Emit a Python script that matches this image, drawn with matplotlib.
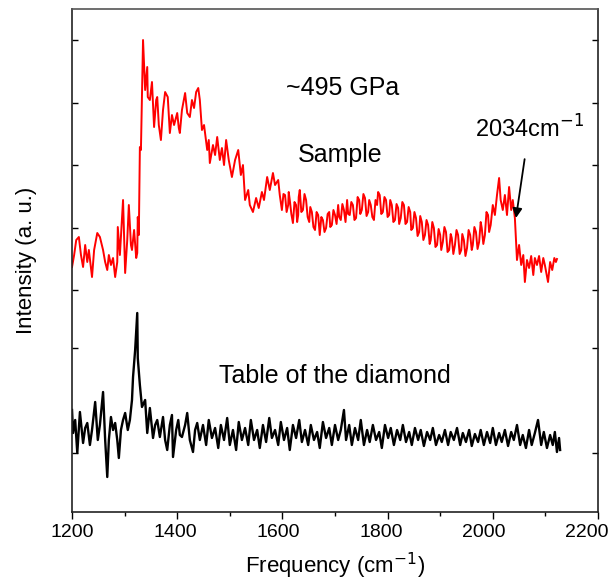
import matplotlib
matplotlib.use("Agg")
import matplotlib.pyplot as plt
from matplotlib.ticker import MultipleLocator
from matplotlib.transforms import ScaledTranslation

plt.rcParams["font.family"] = ["Liberation Sans", "DejaVu Sans"]

# sample spectrum (~495 GPa), arbitrary intensity units
sample_freq = [
    1200, 1204, 1208, 1213, 1217, 1221, 1225, 1229, 1232, 1238, 1242, 1248, 1253, 1259,
    1263, 1267, 1270, 1274, 1278, 1282, 1286, 1287, 1291, 1297, 1301, 1305, 1308, 1312,
    1314, 1318, 1322, 1324, 1325, 1327, 1329, 1331, 1335, 1339, 1343, 1344, 1348, 1352,
    1356, 1360, 1362, 1365, 1369, 1373, 1377, 1382, 1386, 1390, 1394, 1400, 1403, 1405,
    1409, 1415, 1419, 1424, 1428, 1432, 1436, 1440, 1443, 1447, 1451, 1457, 1460, 1462,
    1468, 1472, 1476, 1481, 1485, 1489, 1493, 1498, 1504, 1510, 1516, 1521, 1525, 1529,
    1535, 1538, 1544, 1550, 1555, 1561, 1565, 1571, 1576, 1582, 1586, 1592, 1595,
    1599, 1602, 1605, 1608, 1611, 1612, 1614, 1617, 1620, 1623, 1626, 1628, 1630, 1631,
    1633, 1636, 1639, 1642, 1645, 1648, 1651, 1653, 1656, 1659, 1662, 1665, 1668, 1670,
    1671, 1674, 1677, 1680, 1683, 1686, 1689, 1691, 1694, 1697, 1700, 1703, 1706, 1708,
    1711, 1714, 1717, 1720, 1723, 1725, 1728, 1731, 1734, 1737, 1740, 1743, 1746, 1748,
    1751, 1754, 1757, 1760, 1763, 1765, 1768, 1771, 1774, 1777, 1780, 1782, 1785, 1788,
    1791, 1794, 1797, 1800, 1803, 1805, 1808, 1811, 1814, 1817, 1820, 1822, 1825, 1828,
    1831, 1834, 1837, 1840, 1843, 1845, 1848, 1851, 1854, 1857, 1860, 1862, 1865, 1868,
    1871, 1874, 1877, 1880, 1882, 1885, 1888, 1891, 1894, 1897, 1900, 1902, 1905, 1908,
    1911, 1914, 1917, 1920, 1922, 1925, 1928, 1931, 1934, 1937, 1940, 1942, 1945, 1948,
    1951, 1954, 1957, 1960, 1962, 1965, 1968, 1971, 1974, 1977, 1979, 1982, 1985, 1988,
    1991, 1993, 1996,
    2000, 2004, 2008, 2012, 2015, 2019, 2023, 2027, 2031, 2035, 2038, 2042, 2046,
    2050, 2054, 2058, 2061, 2065, 2069, 2073, 2077, 2080, 2084, 2088, 2092, 2096, 2099,
    2105, 2109, 2113, 2117, 2120, 2122,
]
sample_int = [
    245, 257, 272, 275, 257, 245, 267, 250, 262, 235, 262, 279, 275, 262,
    250, 242, 257, 247, 254, 235, 250, 285, 257, 312, 239, 272, 307, 267,
    262, 282, 254, 259, 295, 277, 365, 362, 472, 422, 445, 415, 412, 430,
    385, 412, 415, 387, 372, 402, 420, 415, 379, 397, 387, 399, 384, 379,
    402, 419, 399, 395, 412, 404, 420, 424, 412, 382, 387, 362, 372, 349,
    367, 357, 375, 352, 364, 347, 372, 352, 335, 352, 362, 337, 347, 312,
    322, 307, 300, 314, 304, 320, 312, 335, 322, 339, 327, 332, 317,
    302, 318, 317, 300, 307, 320, 312, 298, 289, 310, 307, 290, 297, 315,
    322, 300, 302, 318, 312, 295, 290, 305, 300, 285, 282, 300, 297, 283,
    277, 295, 292, 280, 284, 298, 300, 285, 287, 302, 297, 288, 307, 295,
    292, 308, 302, 290, 312, 298, 297, 310, 307, 292, 294, 315, 312, 298,
    302, 318, 314, 296, 300, 312, 307, 295, 292, 312, 307, 320, 317, 298,
    300, 315, 312, 295, 297, 312, 307, 290, 292, 308, 304, 288, 294, 310,
    307, 288, 290, 305, 300, 282, 284, 300, 294, 276, 280, 296, 290, 272,
    277, 292, 287, 268, 272, 290, 284, 265, 267, 283, 277, 262, 270, 285,
    280, 260, 262, 278, 274, 258, 267, 282, 277, 258, 262, 278, 272, 256,
    264, 282, 277, 262, 267, 285, 280, 263, 270, 290, 284, 268, 277, 300,
    297, 280, 287,
    307, 297, 317, 334, 312, 302, 317, 297, 325, 302, 312, 294, 252,
    267, 247, 257, 230, 252, 244, 256, 237, 254, 247, 256, 240, 254, 247,
    230, 250, 242, 254, 250, 253,
]

# diamond table spectrum
diamond_freq = [
    1200, 1202, 1206, 1210, 1215, 1221, 1225, 1229, 1234, 1238, 1244, 1249, 1253, 1259,
    1263, 1267, 1270, 1274, 1278, 1282, 1286, 1289, 1293, 1297, 1301, 1306, 1310, 1314,
    1316, 1320, 1324, 1325, 1329, 1333, 1339, 1343, 1348, 1354, 1358, 1362, 1367, 1373,
    1377, 1381, 1386, 1390, 1392, 1398, 1402, 1405, 1409, 1415, 1419, 1424, 1430, 1434,
    1438, 1443, 1449, 1455, 1460, 1466, 1472, 1478, 1483, 1489, 1495, 1500, 1506, 1512,
    1517, 1523, 1529, 1535, 1540, 1546, 1552, 1557, 1563, 1569, 1575, 1580, 1586, 1592,
    1597, 1603, 1609, 1614, 1620, 1626, 1632, 1637, 1643, 1649, 1654, 1660, 1666, 1671,
    1677, 1683, 1689, 1694, 1700, 1706, 1711, 1717, 1721, 1727, 1732, 1738, 1744, 1749,
    1755, 1761, 1766, 1772, 1778, 1784, 1789, 1795, 1801, 1806, 1812, 1818, 1824, 1829,
    1835, 1841, 1846, 1852, 1858, 1863, 1869, 1875, 1881, 1886, 1892, 1898, 1903, 1909,
    1915, 1920, 1926, 1932, 1938, 1943, 1949, 1955, 1960, 1966, 1972, 1977, 1983, 1989,
    1995, 2000, 2006, 2012, 2017, 2023, 2029, 2035, 2040, 2046, 2052, 2057, 2063, 2069,
    2074, 2080, 2086, 2092, 2097, 2103, 2109, 2114, 2118, 2122, 2126, 2128,
]
diamond_int = [
    102, 79, 92, 59, 100, 69, 84, 89, 67, 82, 110, 72, 87, 120,
    72, 35, 72, 95, 82, 89, 72, 54, 82, 92, 99, 82, 92, 112,
    135, 162, 199, 154, 127, 105, 112, 79, 104, 74, 87, 92, 75, 95,
    72, 62, 87, 97, 55, 82, 92, 77, 75, 87, 99, 72, 60, 82,
    89, 72, 87, 67, 92, 74, 84, 64, 87, 72, 94, 67, 82, 62,
    90, 72, 84, 67, 92, 72, 82, 64, 87, 70, 94, 74, 82, 67,
    90, 72, 84, 62, 87, 74, 92, 70, 82, 67, 87, 72, 80, 64,
    90, 74, 84, 67, 87, 72, 82, 102, 72, 87, 67, 84, 72, 92,
    67, 82, 70, 87, 72, 80, 64, 87, 74, 84, 67, 82, 72, 87,
    70, 80, 67, 84, 72, 82, 66, 80, 72, 84, 67, 77, 70, 82,
    67, 80, 72, 84, 67, 79, 70, 82, 66, 78, 70, 82, 67, 80,
    69, 84, 67, 79, 70, 82, 66, 80, 72, 87, 67, 77, 64, 82,
    67, 79, 92, 67, 80, 64, 77, 67, 80, 60, 74, 62,
]

y_ticks = [59, 164, 222, 284, 347, 409, 472]

fig = plt.figure(figsize=(6.13, 5.86), dpi=100)
ax = fig.add_axes([0.1175, 0.1263, 0.858, 0.8583])

ax.plot(sample_freq, sample_int, color="#ff0000", lw=1.4)
ax.plot(diamond_freq, diamond_int, color="black", lw=1.7)

ax.set_xlim(1200, 2200)
ax.set_ylim(0, 503)
ax.xaxis.set_major_locator(MultipleLocator(200))
ax.xaxis.set_minor_locator(MultipleLocator(100))
ax.set_yticks(y_ticks)
ax.set_yticklabels([])
ax.tick_params(axis="x", which="major", direction="out", length=5, width=1, labelsize=14)
ax.tick_params(axis="x", which="minor", direction="out", length=3, width=1)
ax.tick_params(axis="y", direction="in", length=4, width=1, right=True)

for s in ax.spines.values():
    s.set_linewidth(1.2)
    s.set_color("#222222")
ax.spines["top"].set_color("#555555")

# tick labels drift slightly left toward the right end, as in the original
for lab, val in zip(ax.get_xticklabels(), ax.get_xticks()):
    dx = -(val - 1200) / 1000 * 11 / 100
    lab.set_transform(lab.get_transform() + ScaledTranslation(dx, 0, fig.dpi_scale_trans))

ax.set_xlabel("Frequency (cm$^{-1}$)", fontsize=16, labelpad=7)
ax.set_ylabel("Intensity (a. u.)", fontsize=16, labelpad=22)

ax.text(1715, 424, "~495 GPa", fontsize=18, ha="center", va="center")
ax.text(1709, 357, "Sample", fontsize=18, ha="center", va="center")
ax.text(1700, 136, "Table of the diamond", fontsize=18, ha="center", va="center")
ax.annotate("2034cm$^{-1}$", xy=(2044, 294), xytext=(2069, 383),
            fontsize=17, ha="center", va="center",
            arrowprops=dict(arrowstyle="-|>", color="black", lw=1.3,
                            shrinkA=10, shrinkB=0, mutation_scale=14))

fig.savefig("out.png", dpi=100)
